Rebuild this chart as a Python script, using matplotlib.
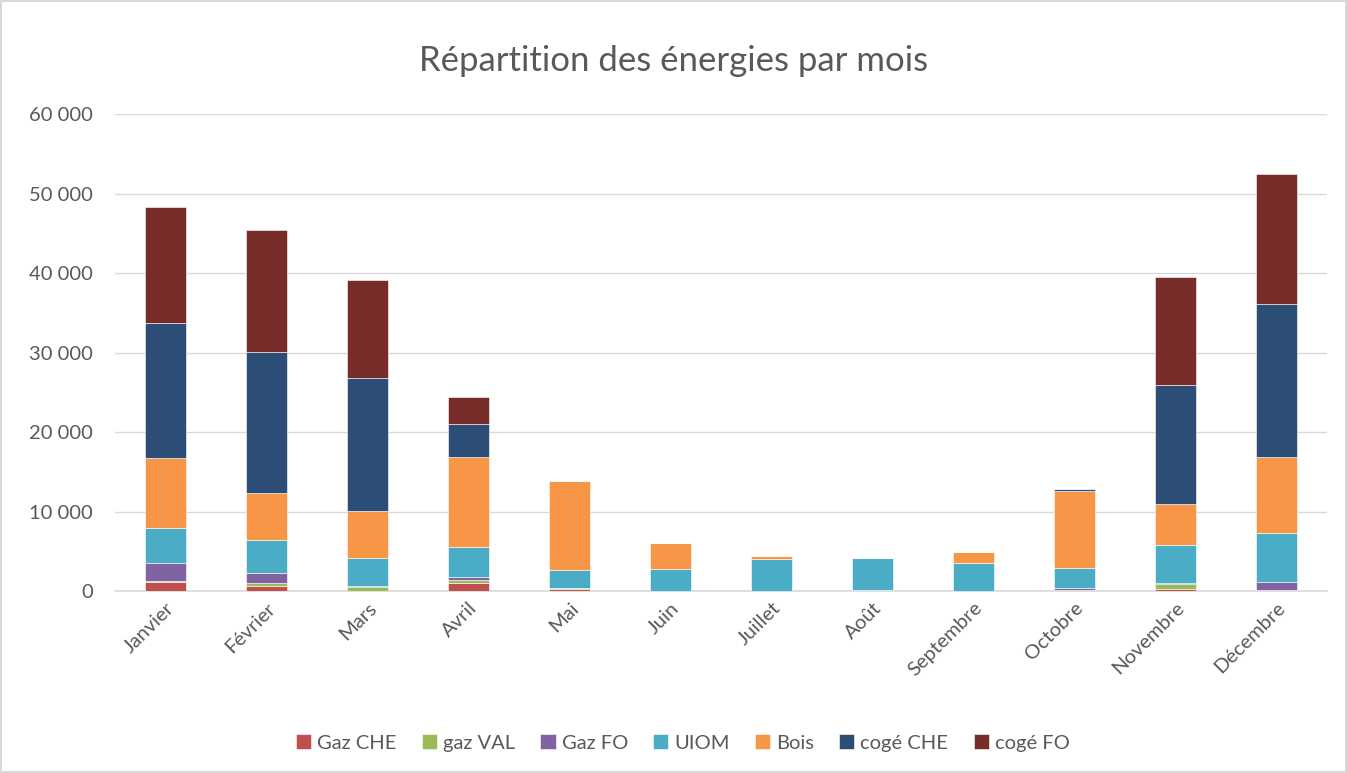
import matplotlib.pyplot as plt
from matplotlib.ticker import FuncFormatter
import numpy as np

months = ["Janvier", "Février", "Mars", "Avril", "Mai", "Juin", "Juillet",
          "Août", "Septembre", "Octobre", "Novembre", "Décembre"]

gaz_che = [1130, 630, 0, 1040, 250, 0, 0, 0, 0, 80, 300, 150]
gaz_val = [180, 380, 470, 340, 170, 0, 0, 150, 0, 0, 550, 0]
gaz_fo = [2210, 1300, 160, 340, 0, 0, 0, 0, 0, 250, 200, 1000]
uiom = [4400, 4090, 3560, 3810, 2280, 2800, 4000, 3950, 3520, 2600, 4770, 6150]
bois = [8810, 5900, 5870, 11330, 11200, 3300, 450, 0, 1420, 9700, 5120, 9560]
coge_che = [16980, 17760, 16740, 4140, 0, 0, 0, 100, 0, 250, 14960, 19240]
coge_fo = [14590, 15340, 12300, 3400, 0, 0, 0, 0, 0, 0, 13600, 16350]

series = [
    ("Gaz CHE", gaz_che, "#c0504d"),
    ("gaz VAL", gaz_val, "#9bbb59"),
    ("Gaz FO", gaz_fo, "#8064a2"),
    ("UIOM", uiom, "#4bacc6"),
    ("Bois", bois, "#f79646"),
    ("cogé CHE", coge_che, "#2c4d75"),
    ("cogé FO", coge_fo, "#772c2a"),
]

plt.rcParams['font.family'] = ['Lato', 'DejaVu Sans']

fig = plt.figure(figsize=(13.47, 7.73), dpi=100)
fig.patch.set_edgecolor("#d9d9d9")
fig.patch.set_linewidth(1.5)
ax = fig.add_axes([0.0854, 0.2354, 0.8996, 0.6171])

x = np.arange(len(months))
bottom = np.zeros(len(months))
for name, vals, color in series:
    vals = np.array(vals, dtype=float)
    ax.bar(x, vals, 0.41, bottom=bottom, color=color, label=name,
           edgecolor="white", linewidth=0.4, zorder=3)
    bottom += vals

ax.set_xlim(-0.5, len(months) - 0.5)
ax.set_ylim(0, 60000)
ax.set_yticks(range(0, 60001, 10000))
ax.yaxis.set_major_formatter(FuncFormatter(lambda v, p: f"{int(v):,}".replace(",", " ")))
ax.grid(axis="y", color="#d9d9d9", linewidth=1, zorder=0)
for s in ["top", "right", "left"]:
    ax.spines[s].set_visible(False)
ax.spines["bottom"].set_color("#d9d9d9")
ax.spines["bottom"].set_linewidth(1.2)
ax.tick_params(axis="both", length=0, colors="#595959", labelsize=14.5)
ax.tick_params(axis="y", pad=16)
ax.tick_params(axis="x", pad=6)
ax.set_xticks(x)
ax.set_xticklabels(months, rotation=45, ha="right", rotation_mode="anchor")

fig.text(0.5, 0.921, "Répartition des énergies par mois", ha="center", va="center",
         fontsize=25, color="#595959")

fig.legend(loc="center", bbox_to_anchor=(0.507, 0.039), ncol=7, frameon=False,
           fontsize=14.5, labelcolor="#595959", handlelength=0.75, handleheight=0.75,
           handletextpad=0.3, columnspacing=1.25)

fig.savefig("out.png", dpi=100)
